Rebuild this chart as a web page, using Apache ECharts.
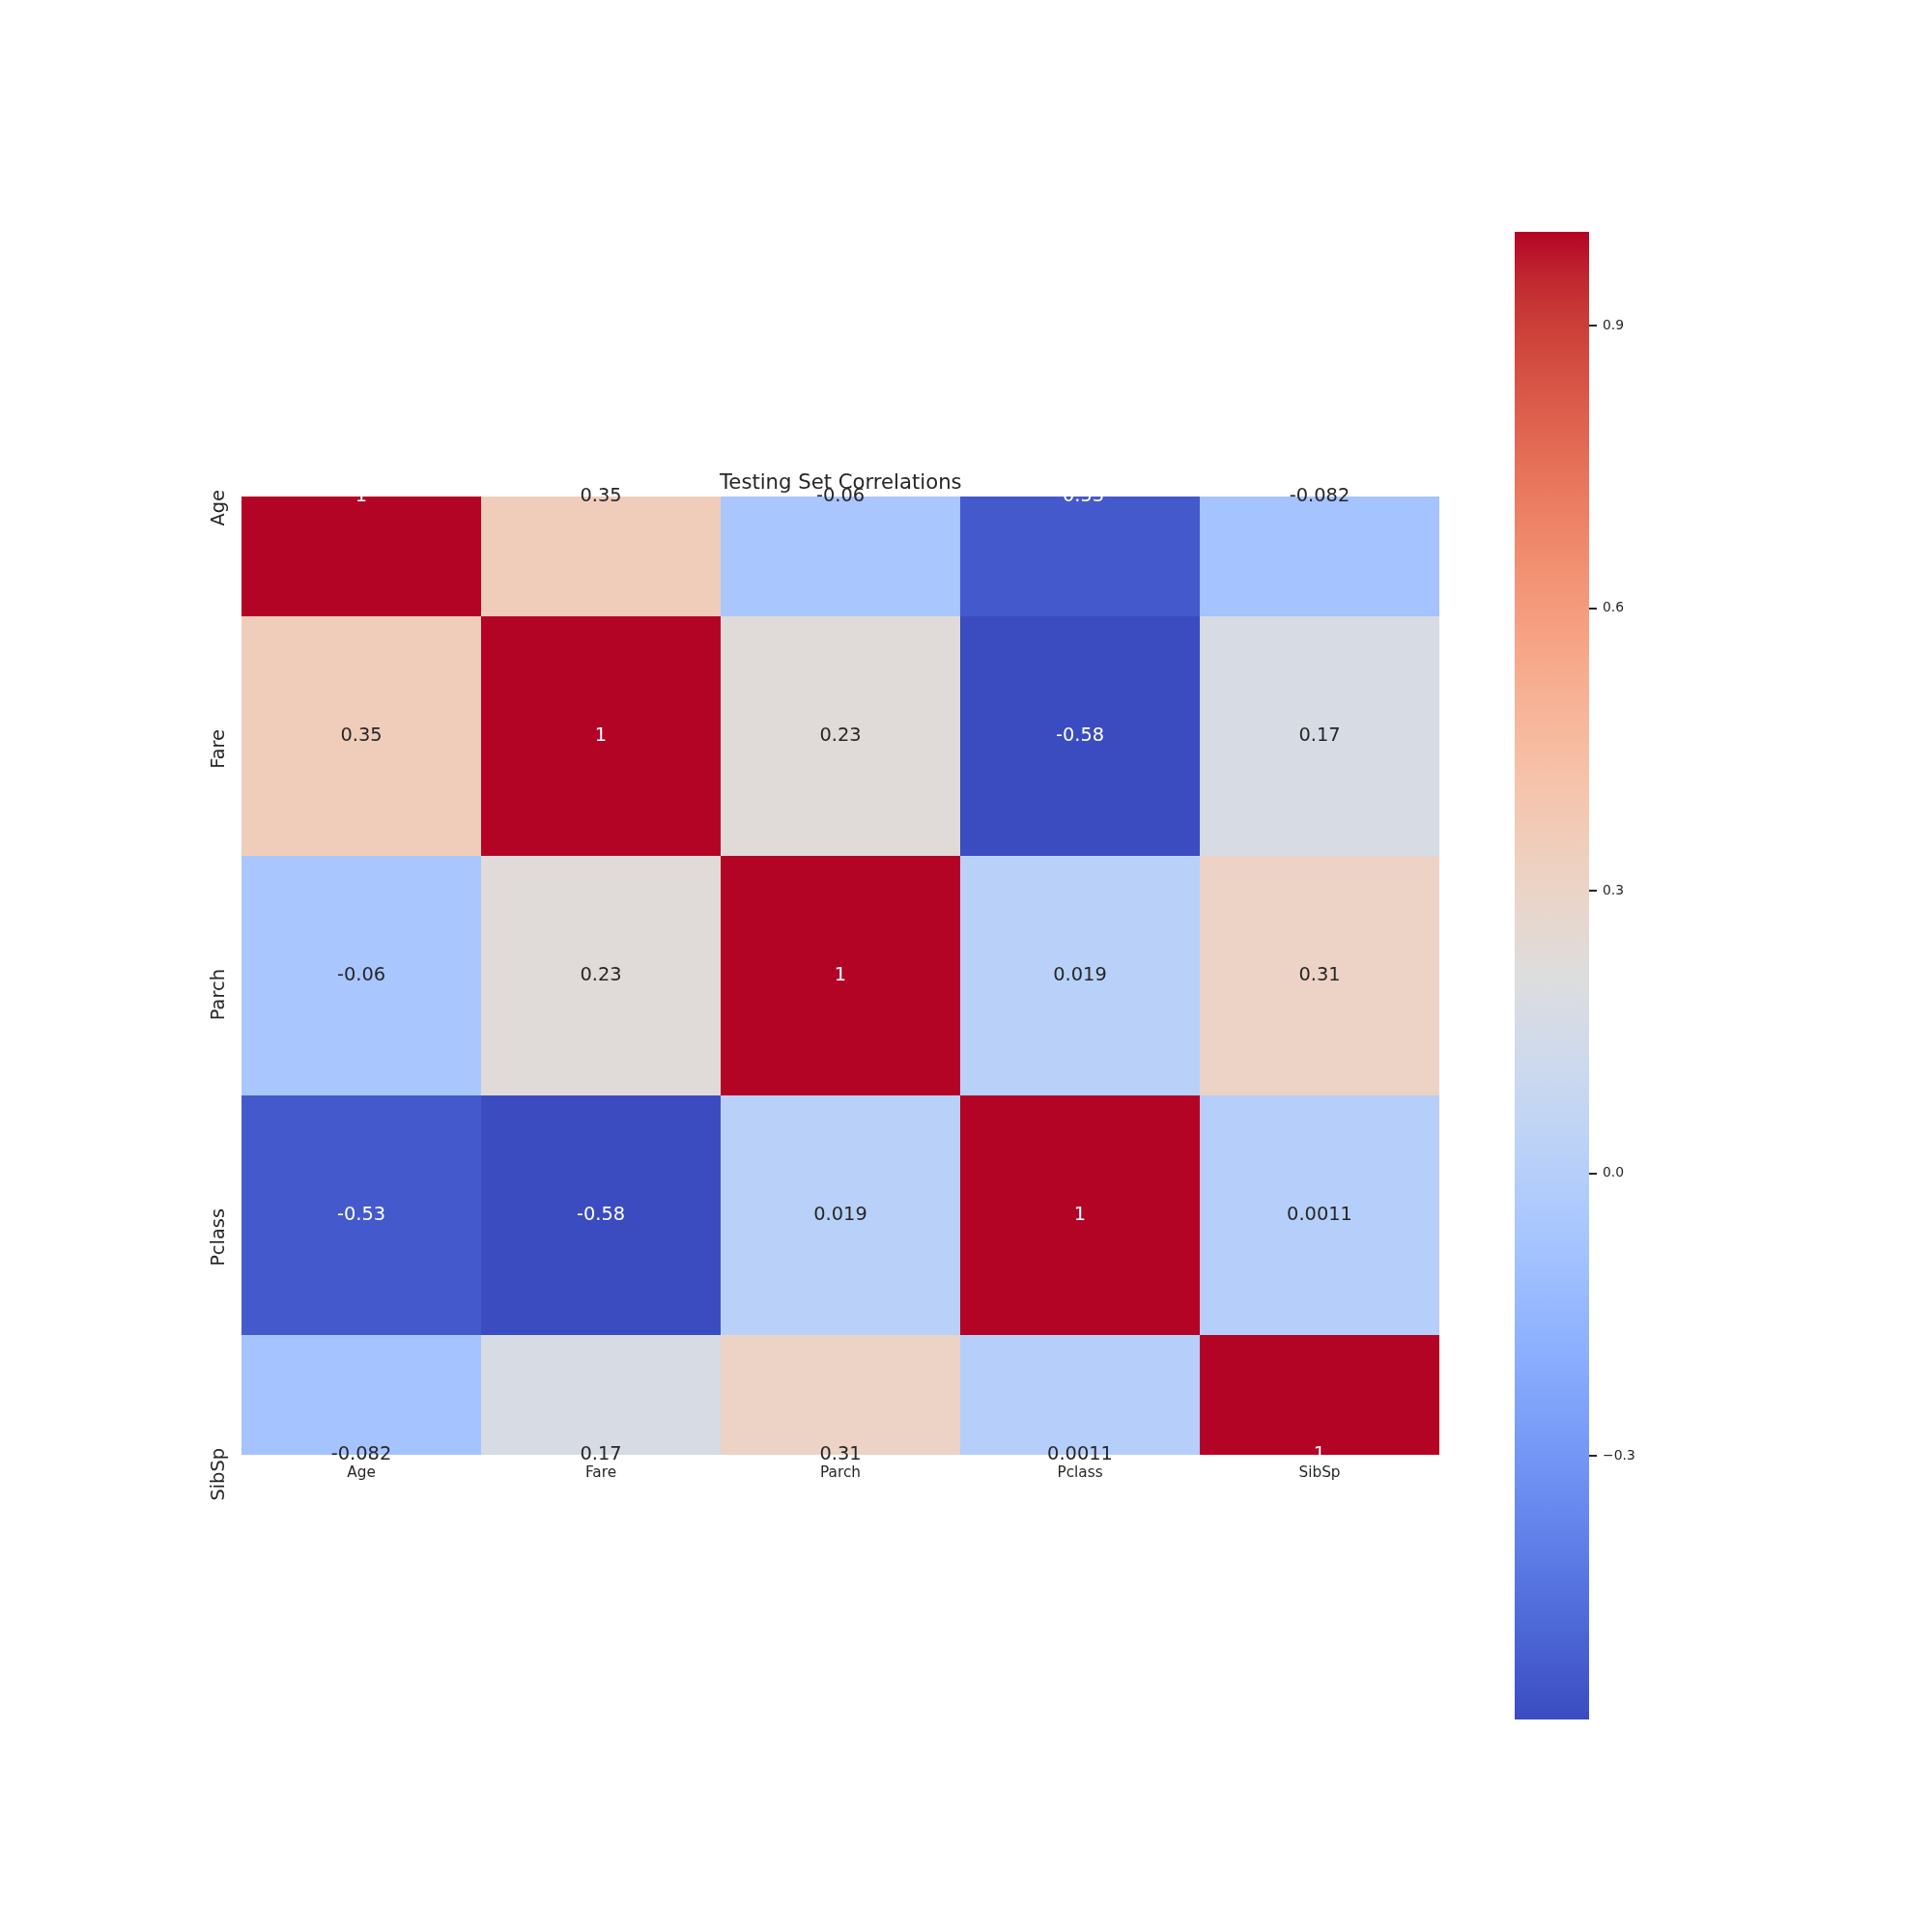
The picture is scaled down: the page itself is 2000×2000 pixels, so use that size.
<!DOCTYPE html>
<html>
<head>
<meta charset="utf-8">
<script src="https://cdn.jsdelivr.net/npm/echarts@6/dist/echarts.min.js"></script>
<style>html,body{margin:0;padding:0;background:#fff}#c{width:2000px;height:2000px}</style>
</head>
<body>
<div id="c"></div>
<script>
// ---- data ----
const labels = ['Age', 'Fare', 'Parch', 'Pclass', 'SibSp'];
const rowAge    = [1, 0.35, -0.06, -0.53, -0.082];
const rowFare   = [0.35, 1, 0.23, -0.58, 0.17];
const rowParch  = [-0.06, 0.23, 1, 0.019, 0.31];
const rowPclass = [-0.53, -0.58, 0.019, 1, 0.0011];
const rowSibSp  = [-0.082, 0.17, 0.31, 0.0011, 1];
const colorbarTicks = [-0.3, 0.0, 0.3, 0.6, 0.9];
const vmin = -0.58, vmax = 1.0;

// matplotlib "coolwarm" (Moreland) colour stops, evenly spaced
const coolwarm = [
 [59,76,192],[68,90,204],[77,104,215],[87,117,225],[98,130,234],[108,142,241],[119,154,247],[130,165,251],
 [141,176,254],[152,185,255],[163,194,255],[174,201,253],[184,208,249],[194,213,244],[204,217,238],[213,219,230],
 [221,221,221],[229,216,209],[236,211,197],[241,204,185],[245,196,173],[247,187,160],[247,177,148],[247,166,135],
 [244,154,123],[241,141,111],[236,127,99],[229,112,88],[222,96,77],[213,80,66],[203,62,56],[192,40,47],[180,4,38]
];
const cwColors = coolwarm.map(c => 'rgb(' + c.join(',') + ')');

const matrix = [rowAge, rowFare, rowParch, rowPclass, rowSibSp];
const cells = [];
matrix.forEach((row, r) => row.forEach((v, c) => cells.push([c, r, v])));

const FONT = '"DejaVu Sans", "Liberation Sans", sans-serif';
const DARK = '#262626';

function fmt(v) { return String(parseFloat(v.toPrecision(2))); }
function lum(colorStr) {
  const m = colorStr.match(/[\d.]+/g).map(Number);
  const f = x => { x /= 255; return x <= 0.03928 ? x / 12.92 : Math.pow((x + 0.055) / 1.055, 2.4); };
  return 0.2126 * f(m[0]) + 0.7152 * f(m[1]) + 0.0722 * f(m[2]);
}

const chart = echarts.init(document.getElementById('c'), null, {renderer: 'canvas'});
chart.setOption({
  backgroundColor: '#fff',
  animation: false,
  textStyle: {fontFamily: FONT},
  title: {
    text: 'Testing Set Correlations',
    left: 745, top: 490, padding: 0,
    textStyle: {fontFamily: FONT, fontSize: 21.2, fontWeight: 'normal', color: DARK}
  },
  grid: [
    {left: 250, top: 514, width: 1240, height: 992, outerBoundsMode: 'none', containLabel: false},
    {left: 1568, top: 240, width: 77, height: 1540, outerBoundsMode: 'none', containLabel: false}
  ],
  xAxis: [
    {
      type: 'category', gridIndex: 0, data: labels, position: 'bottom',
      axisLine: {show: false}, axisTick: {show: false}, splitLine: {show: false},
      axisLabel: {fontFamily: FONT, fontSize: 15.3, color: DARK, margin: 12, interval: 0}
    },
    {type: 'value', gridIndex: 1, min: 0, max: 1, show: false}
  ],
  yAxis: [
    {
      type: 'value', gridIndex: 0, min: 0, max: 4, interval: 1, inverse: true,
      axisLine: {show: false}, axisTick: {show: false}, splitLine: {show: false},
      axisLabel: {
        fontFamily: FONT, fontSize: 19.4, color: DARK, margin: 14,
        rotate: 90, align: 'right', verticalAlign: 'bottom', padding: [0, -7, 0, 0],
        showMinLabel: true, showMaxLabel: true,
        formatter: v => labels[Math.round(v)] || ''
      }
    },
    {
      type: 'value', gridIndex: 1, min: vmin, max: vmax, position: 'right',
      axisLine: {show: false}, splitLine: {show: false}, axisTick: {show: false},
      axisLabel: {
        fontFamily: FONT, fontSize: 13.9, color: DARK, margin: 14, padding: [4, 0, 0, 0],
        customValues: colorbarTicks,
        formatter: v => (Math.round(v * 10) / 10).toFixed(1).replace('-', '\u2212')
      }
    }
  ],
  visualMap: {
    type: 'continuous', show: false, seriesIndex: 0, dimension: 2,
    min: vmin, max: vmax, inRange: {color: cwColors}
  },
  series: [
    {
      type: 'custom', xAxisIndex: 0, yAxisIndex: 0,
      data: cells,
      renderItem: function (params, api) {
        const c = api.value(0), r = api.value(1), v = api.value(2);
        const p = api.coord([c, r]);
        const s = api.size([1, 1]);
        const cs = params.coordSys;
        const rect = echarts.graphic.clipRectByRect(
          {x: p[0] - s[0] / 2, y: p[1] - s[1] / 2, width: s[0], height: s[1]},
          {x: cs.x, y: cs.y, width: cs.width, height: cs.height});
        const color = api.visual('color');
        const txtColor = lum(color) > 0.408 ? DARK : '#ffffff';
        const children = [];
        if (rect) children.push({type: 'rect', shape: rect, style: {fill: color}});
        children.push({
          type: 'text', x: p[0], y: p[1], z2: 100,
          style: {text: fmt(v), fill: txtColor, font: '19.4px ' + FONT, align: 'center', verticalAlign: 'middle'}
        });
        return {type: 'group', children: children};
      }
    },
    {
      type: 'custom', xAxisIndex: 1, yAxisIndex: 1, z: 1,
      data: [[0, vmin, vmax]],
      renderItem: function (params, api) {
        const top = api.coord([0, api.value(2)]);
        const bot = api.coord([1, api.value(1)]);
        const stops = cwColors.map((col, i) => ({offset: 1 - i / (cwColors.length - 1), color: col})).reverse();
        return {
          type: 'rect',
          shape: {x: top[0], y: top[1], width: bot[0] - top[0], height: bot[1] - top[1]},
          style: {fill: new echarts.graphic.LinearGradient(0, 0, 0, 1, stops)}
        };
      }
    },
    {
      // colorbar tick marks
      type: 'custom', xAxisIndex: 1, yAxisIndex: 1, z: 3,
      data: colorbarTicks.map(t => [1, t]),
      renderItem: function (params, api) {
        const p = api.coord([api.value(0), api.value(1)]);
        const y = Math.round(p[1]);
        return {
          type: 'line',
          shape: {x1: p[0], y1: y, x2: p[0] + 8, y2: y},
          style: {stroke: DARK, lineWidth: 2}
        };
      }
    }
  ]
});
</script>
</body>
</html>
